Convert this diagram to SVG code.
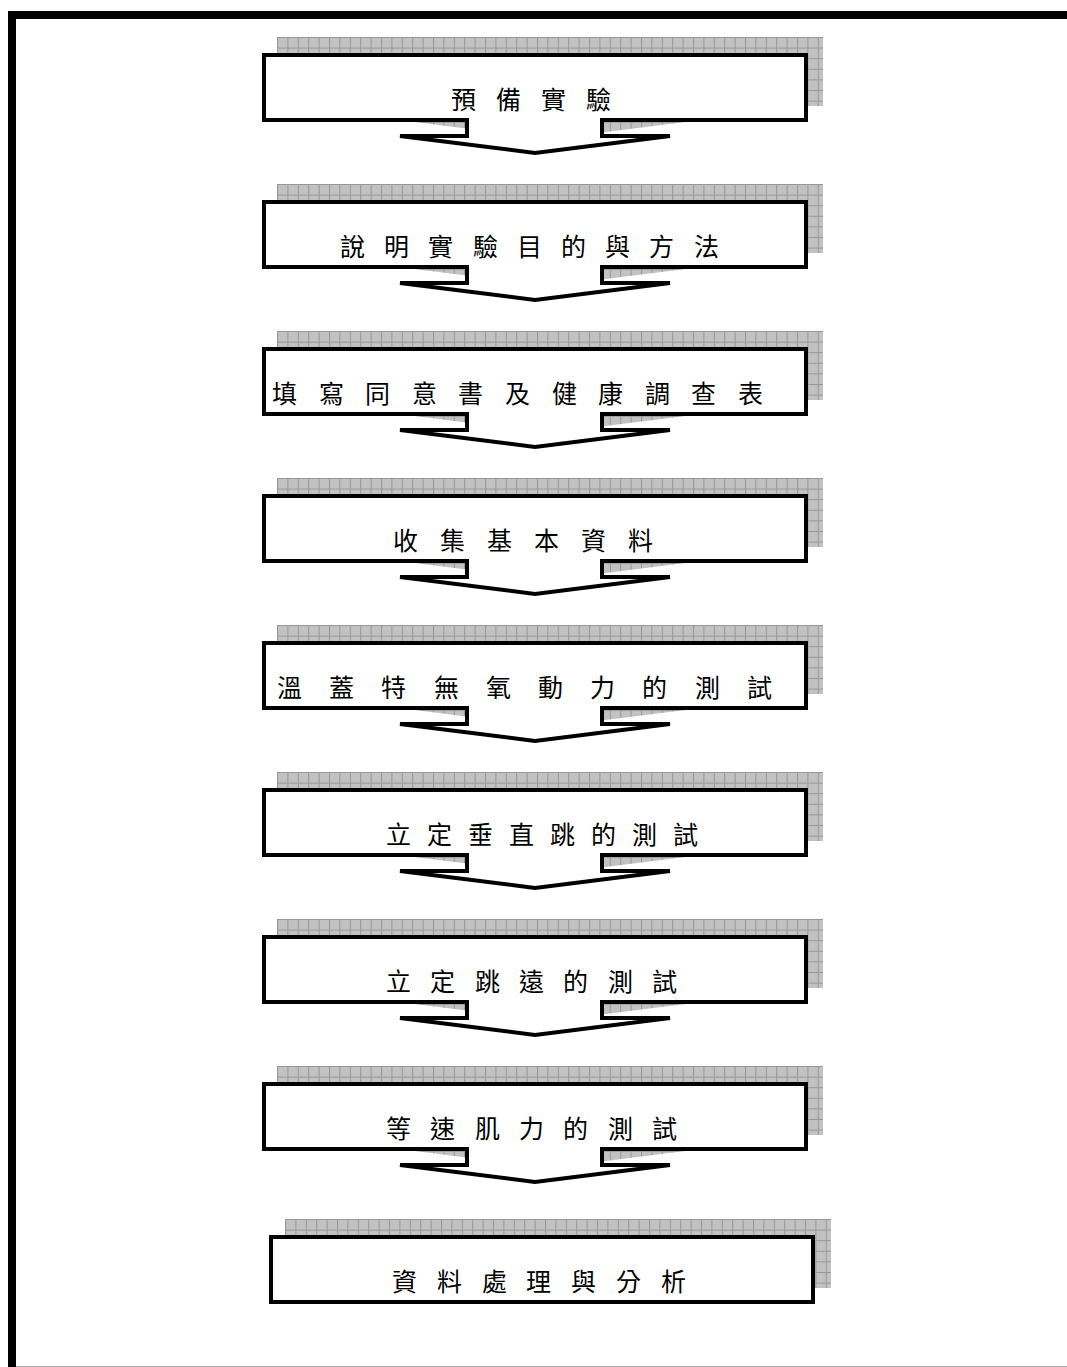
<svg xmlns="http://www.w3.org/2000/svg" xmlns:xlink="http://www.w3.org/1999/xlink" width="1067" height="1367" viewBox="0 0 1067 1367">
<style>
.box{fill:#fff;stroke:#000;stroke-width:4}
.shadow{fill:url(#grid);stroke:url(#grid);stroke-width:4}
.afill{fill:#fff;stroke:none}
.aline{fill:none;stroke:#000;stroke-width:4;stroke-linejoin:miter}
.lbl{font-family:"Noto Sans CJK TC","Noto Sans CJK SC",sans-serif;font-size:25px;fill:#000}
</style>
<defs>
<pattern id="grid" patternUnits="userSpaceOnUse" x="262" y="53" width="10.4" height="10.6">
<rect width="10.4" height="10.6" fill="#c2c2c2"/>
<path d="M0,0.5H10.4M0.5,0V10.6" stroke="#979797" stroke-width="1"/>
</pattern>
<polygon id="callout" points="264,55 806,55 806,120 602,120 602,136 670,136 535,153 400,136 467,136 467,120 264,120"/>
<g id="arrow">
<polygon class="afill" points="467,116 602,116 602,136 670,136 535,153 400,136 467,136"/>
<polyline class="aline" points="467,118 467,136 400,136 535,153 670,136 602,136 602,118"/>
</g>
</defs>
<rect width="1067" height="1367" fill="#fff"/>
<g id="page-border">
<rect x="8" y="11" width="8" height="1356" fill="#000"/>
<rect x="8" y="11" width="1059" height="8" fill="#000"/>
<line x1="16" y1="1366.5" x2="1067" y2="1366.5" stroke="#b0b0b0" stroke-width="1"/>
</g>
<g id="shadows">
<use xlink:href="#callout" class="shadow" transform="translate(15,-16)"/>
<use xlink:href="#callout" class="shadow" transform="translate(15,131)"/>
<use xlink:href="#callout" class="shadow" transform="translate(15,278)"/>
<use xlink:href="#callout" class="shadow" transform="translate(15,425)"/>
<use xlink:href="#callout" class="shadow" transform="translate(15,572)"/>
<use xlink:href="#callout" class="shadow" transform="translate(15,719)"/>
<use xlink:href="#callout" class="shadow" transform="translate(15,866)"/>
<use xlink:href="#callout" class="shadow" transform="translate(15,1013)"/>
<rect x="262" y="53" width="546" height="69" fill="url(#grid)" transform="translate(23,1166)"/>
</g>
<g id="nodes">
<g id="n1"><rect class="box" x="264" y="55" width="542" height="65"/>
<text class="lbl" y="109" x="451 476 496 521 541 566 586">預 備 實 驗</text></g>
<g id="n2"><rect class="box" x="264" y="202" width="542" height="65"/>
<text class="lbl" y="256" x="340 365 384 409 428 453 473 498 517 542 561 586 605 630 649 674 694">說 明 實 驗 目 的 與 方 法</text></g>
<g id="n3"><rect class="box" x="264" y="349" width="542" height="65"/>
<text class="lbl" y="403" x="272 297 319 344 365 390 412 437 458 483 505 530 552 577 598 623 645 670 691 716 738">填 寫 同 意 書 及 健 康 調 查 表</text></g>
<g id="n4"><rect class="box" x="264" y="496" width="542" height="65"/>
<text class="lbl" y="550" x="393 418 440 465 487 512 534 559 581 606 628">收 集 基 本 資 料</text></g>
<g id="n5"><rect class="box" x="264" y="643" width="542" height="65"/>
<text class="lbl" y="697" x="277 302 329 354 381 406 434 459 486 511 538 563 590 615 642 667 695 720 747">溫 蓋 特 無 氧 動 力 的 測 試</text></g>
<g id="n6"><rect class="box" x="264" y="790" width="542" height="65"/>
<text class="lbl" y="844" x="386 411 427 452 468 493 509 534 550 575 591 616 632 657 673">立 定 垂 直 跳 的 測 試</text></g>
<g id="n7"><rect class="box" x="264" y="937" width="542" height="65"/>
<text class="lbl" y="991" x="386 411 430 455 475 500 519 544 563 588 608 633 652">立 定 跳 遠 的 測 試</text></g>
<g id="n8"><rect class="box" x="264" y="1084" width="542" height="65"/>
<text class="lbl" y="1138" x="386 411 430 455 475 500 519 544 563 588 608 633 652">等 速 肌 力 的 測 試</text></g>
<g id="n9"><rect class="box" x="271" y="1237" width="542" height="65"/>
<text class="lbl" y="1291" x="392 417 437 462 482 507 526 551 571 596 616 641 661">資 料 處 理 與 分 析</text></g>
</g>
<g id="connectors">
<use xlink:href="#arrow"/>
<use xlink:href="#arrow" transform="translate(0,147)"/>
<use xlink:href="#arrow" transform="translate(0,294)"/>
<use xlink:href="#arrow" transform="translate(0,441)"/>
<use xlink:href="#arrow" transform="translate(0,588)"/>
<use xlink:href="#arrow" transform="translate(0,735)"/>
<use xlink:href="#arrow" transform="translate(0,882)"/>
<use xlink:href="#arrow" transform="translate(0,1029)"/>
</g>
</svg>
